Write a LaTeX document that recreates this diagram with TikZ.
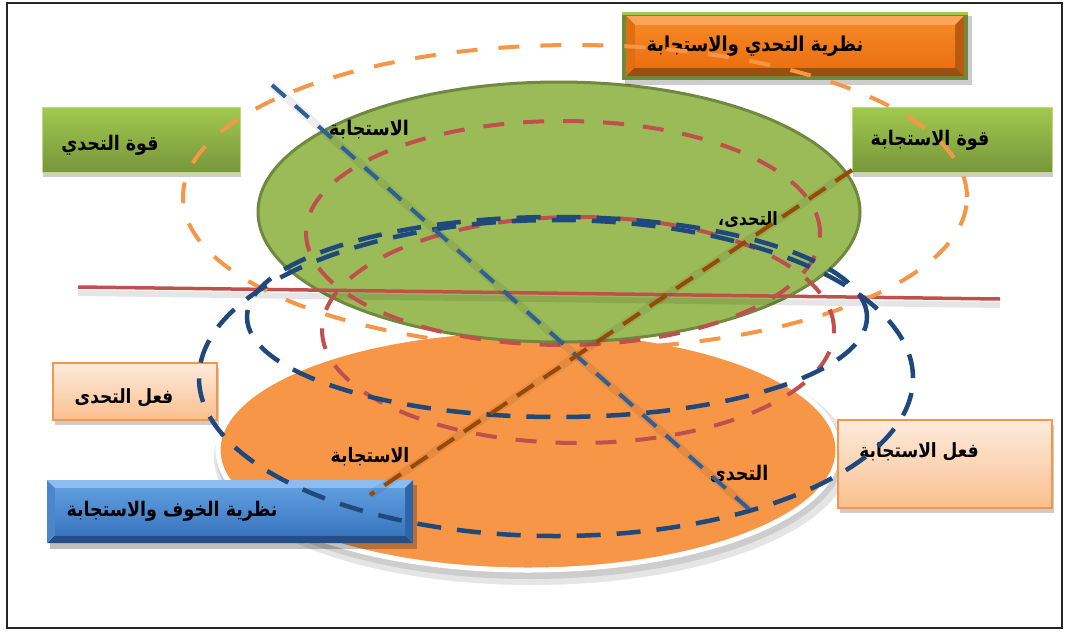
\documentclass[tikz,border=0pt]{standalone}
\usepackage{fontspec}
\usetikzlibrary{shadows}
\TeXXeTstate=1
\newfontfamily\arabicfont[Script=Arabic]{DejaVu Sans}
\newcommand{\artxt}[1]{\scalebox{1}[1.15]{\beginR #1\endR}}
\definecolor{ored}{HTML}{C0504D}
\definecolor{oorange}{HTML}{F79646}
\definecolor{oblue}{HTML}{1F497D}
\definecolor{oblueline}{HTML}{2F5F98}
\definecolor{obrown}{HTML}{984807}
\definecolor{ogreen}{HTML}{9BBB59}
\definecolor{ogreendk}{HTML}{71893F}
\definecolor{gtop}{HTML}{A2C94E}
\definecolor{gbot}{HTML}{77963B}
\definecolor{ptop}{HTML}{FDEBDD}
\definecolor{pbot}{HTML}{FABF8E}
\definecolor{bvOlight}{HTML}{FAA55A}
\definecolor{bvOdark}{HTML}{9A4E12}
\definecolor{bvOleft}{HTML}{E0700F}
\definecolor{bvOright}{HTML}{B85A10}
\definecolor{bvOtop}{HTML}{F58624}
\definecolor{bvObot}{HTML}{EC7012}
\definecolor{bvBlight}{HTML}{8DBDF0}
\definecolor{bvBdark}{HTML}{234F86}
\definecolor{bvBleft}{HTML}{4A86CC}
\definecolor{bvBright}{HTML}{2F64A8}
\definecolor{bvBtop}{HTML}{5F9DDE}
\definecolor{bvBbot}{HTML}{3A76C0}
\tikzset{
  boxtext/.style={font=\arabicfont\bfseries\fontsize{17.5}{20}\selectfont, inner sep=0pt, text=black},
  greenbox/.style={top color=gtop, bottom color=gbot, draw=gtop!70!white, line width=0.6pt, inner sep=0pt,
     drop shadow={shadow xshift=1pt, shadow yshift=-5pt, opacity=.2, fill=black}},
  peachbox/.style={top color=ptop, bottom color=pbot, draw=oorange, line width=1.5pt, inner sep=0pt,
     drop shadow={shadow xshift=2pt, shadow yshift=-5pt, opacity=.2, fill=black}},
  reddash/.style={draw=ored, line width=4pt, dash pattern=on 21pt off 19pt},
  orangedash/.style={draw=oorange, line width=4pt, dash pattern=on 21pt off 21pt},
  bluedash/.style={draw=oblue, line width=4.5pt, dash pattern=on 24pt off 16pt},
  lineshadow/.style={draw=black, opacity=.07, line width=8pt},
}
\begin{document}
\begin{tikzpicture}[x=1pt, y=-1pt]
\useasboundingbox (0,0) rectangle (1067,632);
\fill[white] (0,0) rectangle (1067,632);
\draw[line width=1.5pt, black!85] (7,3) rectangle (1062,628);

% orange filled ellipse with white rim and soft shadow
\fill[black, opacity=.10] (532,458) ellipse [x radius=318pt, y radius=127pt];
\fill[black, opacity=.10] (530,455) ellipse [x radius=314pt, y radius=124pt];
\filldraw[fill=oorange, draw=white, line width=5pt] (528,450) ellipse [x radius=310pt, y radius=120pt];

% green ellipse
\filldraw[fill=ogreen, draw=ogreendk, line width=3pt] (559,212) ellipse [x radius=301pt, y radius=130pt];

% top bevel box (orange on green frame)
\fill[black, opacity=.2] (625,16) rectangle (972,85);
\fill[ogreendk] (622,12) rectangle (968,80);
\fill[gtop] (622,12) rectangle (968,15);
\fill[bvOlight] (626,16) -- (964,16) -- (955,25) -- (635,25) -- cycle;
\fill[bvOdark] (626,76) -- (964,76) -- (955,67) -- (635,67) -- cycle;
\fill[bvOleft] (626,16) -- (635,25) -- (635,67) -- (626,76) -- cycle;
\fill[bvOright] (964,16) -- (955,25) -- (955,67) -- (964,76) -- cycle;
\shade[top color=bvOtop, bottom color=bvObot] (635,25) rectangle (955,67);
\node[boxtext, font=\arabicfont\bfseries\fontsize{17.8}{20}\selectfont] (t1) at (755,46) {\artxt{نظرية التحدي والاستجابة}};

% blue bevel box
\fill[black, opacity=.25] (50,485) rectangle (417,549);
\fill[bvBlight] (47,480) -- (413,480) -- (405,488) -- (55,488) -- cycle;
\fill[bvBdark] (47,543) -- (413,543) -- (405,535) -- (55,535) -- cycle;
\fill[bvBleft] (47,480) -- (55,488) -- (55,535) -- (47,543) -- cycle;
\fill[bvBright] (413,480) -- (405,488) -- (405,535) -- (413,543) -- cycle;
\shade[top color=bvBtop, bottom color=bvBbot] (55,488) rectangle (405,535);
\node[boxtext] (t6) at (172,511) {\artxt{نظرية الخوف والاستجابة}};

% green boxes
\node[greenbox, minimum width=198pt, minimum height=65pt] (gb1) at (141,139.5) {};
\node[boxtext] (t2) at (110,145) {\artxt{قوة التحدي}};
\node[greenbox, minimum width=200pt, minimum height=65pt] (gb2) at (952,139.5) {};
\node[boxtext] (t3) at (930,140) {\artxt{قوة الاستجابة}};

% peach boxes
\node[peachbox, minimum width=164pt, minimum height=57pt] (pb1) at (135,391.5) {};
\node[boxtext, font=\arabicfont\bfseries\fontsize{17}{20}\selectfont] (t4) at (124,398) {\artxt{فعل التحدى}};
\node[peachbox, minimum width=214pt, minimum height=88pt] (pb2) at (945,464) {};
\node[boxtext, font=\arabicfont\bfseries\fontsize{17}{20}\selectfont] (t5) at (919,452) {\artxt{فعل الاستجابة}};

% labels inside ellipses
\node[boxtext, font=\arabicfont\bfseries\fontsize{17.5}{20}\selectfont] (l1) at (369,130) {\artxt{الاستجابة}};
\node[boxtext, font=\arabicfont\bfseries\fontsize{16}{20}\selectfont] (l2) at (748,219) {\artxt{التحدى،}};
\node[boxtext, font=\arabicfont\bfseries\fontsize{17.3}{20}\selectfont] (l3) at (370,457) {\artxt{الاستجابة}};
\node[boxtext, font=\arabicfont\bfseries\fontsize{17.5}{20}\selectfont] (l4) at (739,474) {\artxt{التحدى}};

% red solid line
\coordinate (rl1) at (78,287);
\coordinate (rl2) at (1000,299);
\draw[black, opacity=.10, line width=6pt] ([yshift=-6pt]rl1) -- ([yshift=-6pt]rl2);
\draw[ored, line width=3.5pt] (rl1) -- (rl2);

% dashed ellipses
\draw[orangedash] (575,197) ellipse [x radius=392pt, y radius=152pt];
\draw[reddash] (563,233) ellipse [x radius=257pt, y radius=112pt];
\draw[reddash] (578,330) ellipse [x radius=256pt, y radius=113pt];
\draw[bluedash] (557,317) ellipse [x radius=310pt, y radius=100pt];
\draw[bluedash] (556,378) ellipse [x radius=357pt, y radius=158pt];

% straight dashed lines
\coordinate (bl1) at (272,85);
\coordinate (bl2) at (750,510);
\coordinate (br1) at (852,170);
\coordinate (br2) at (370,495);
\draw[lineshadow] (bl1) -- (bl2);
\draw[lineshadow] (br1) -- (br2);
\draw[oblueline, line width=4pt, dash pattern=on 18pt off 13pt] (bl1) -- (bl2);
\draw[obrown, line width=4pt, dash pattern=on 20pt off 12pt] (br1) -- (br2);
\end{tikzpicture}
\end{document}
